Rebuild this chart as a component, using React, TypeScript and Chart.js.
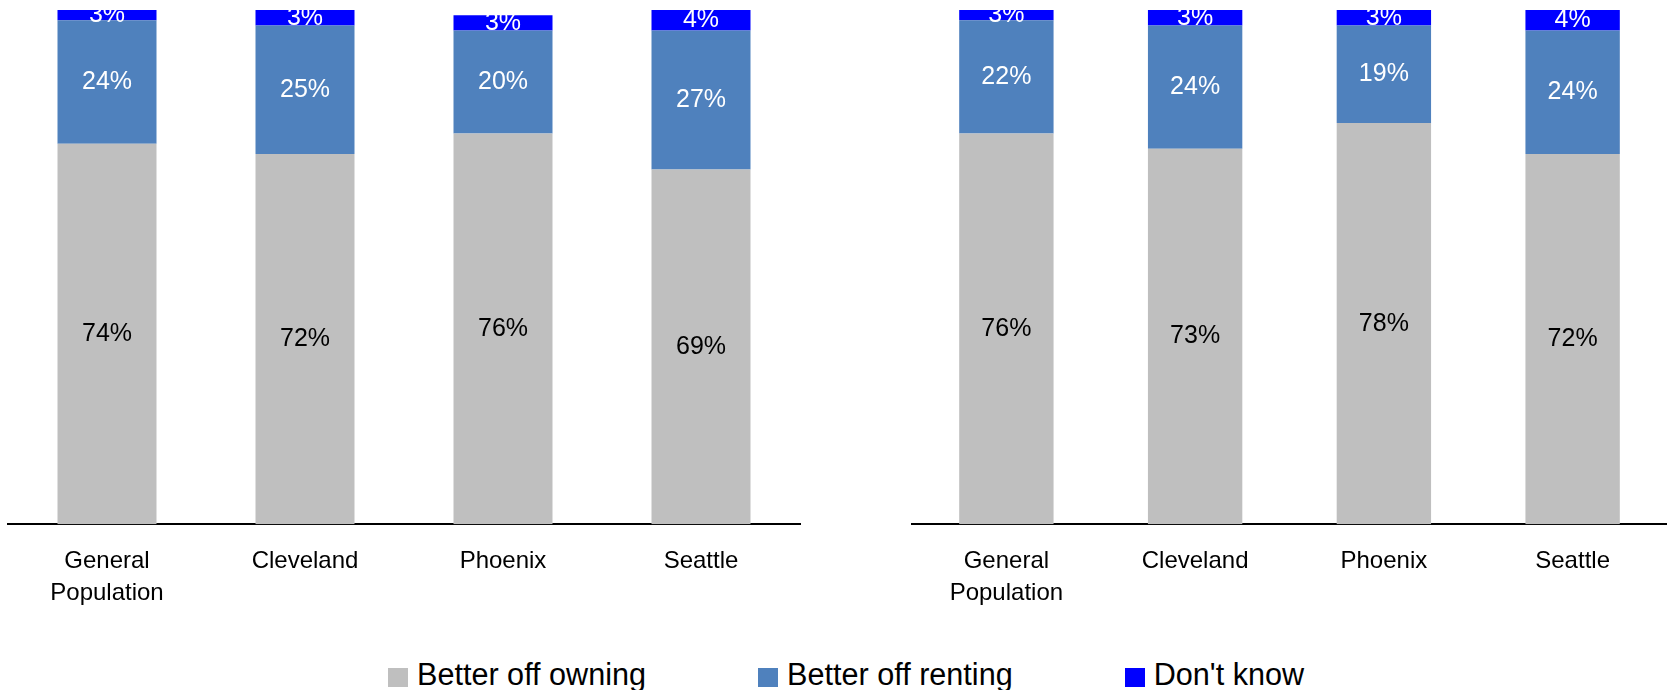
import React, { useEffect, useRef } from 'react';
import { Chart, registerables } from 'chart.js';

Chart.register(...registerables);

// Categories along each x axis (first one wraps onto two lines)
const categories: (string | string[])[] = [['General', 'Population'], 'Cleveland', 'Phoenix', 'Seattle'];

// Series shared by both panels
const seriesNames = ['Better off owning', 'Better off renting', "Don't know"];
const seriesColors = ['#BFBFBF', '#4F81BD', '#0000FF'];
const valueTextColors = ['#000000', '#FFFFFF', '#FFFFFF'];

// Left panel values (%)
const leftOwning = [74, 72, 76, 69];
const leftRenting = [24, 25, 20, 27];
const leftDontKnow = [3, 3, 3, 4];

// Right panel values (%)
const rightOwning = [76, 73, 78, 72];
const rightRenting = [22, 24, 19, 24];
const rightDontKnow = [3, 3, 3, 4];

const FONT = '"Liberation Sans", Arial, Helvetica, sans-serif';
const CANVAS_HEIGHT = 624;

// Writes each segment's percentage in the middle of its visible part
const segmentLabels = {
  id: 'segmentLabels',
  afterDatasetsDraw(chart: any) {
    const { ctx, chartArea } = chart;
    ctx.save();
    ctx.beginPath();
    ctx.rect(chartArea.left, chartArea.top, chartArea.right - chartArea.left, chartArea.bottom - chartArea.top);
    ctx.clip();
    ctx.font = `25px ${FONT}`;
    ctx.textAlign = 'center';
    ctx.textBaseline = 'middle';
    chart.data.datasets.forEach((ds: any, i: number) => {
      const meta = chart.getDatasetMeta(i);
      meta.data.forEach((bar: any, j: number) => {
        const { x, y, base } = bar.getProps(['x', 'y', 'base'], true);
        const top = Math.max(Math.min(y, base), chartArea.top);
        const bottom = Math.max(y, base);
        ctx.fillStyle = valueTextColors[i];
        ctx.fillText(`${ds.data[j]}%`, x, (top + bottom) / 2);
      });
    });
    ctx.restore();
  },
};

type PanelProps = {
  series: number[][];
  left: number;
  width: number;
  padLeft: number;
  padRight: number;
};

function StackedPanel({ series, left, width, padLeft, padRight }: PanelProps) {
  const ref = useRef<HTMLCanvasElement | null>(null);

  useEffect(() => {
    if (!ref.current) return;
    const chart = new Chart(ref.current, {
      type: 'bar',
      data: {
        labels: categories,
        datasets: series.map((data, i) => ({
          label: seriesNames[i],
          data,
          backgroundColor: seriesColors[i],
          borderWidth: 0,
          categoryPercentage: 0.5,
          barPercentage: 1,
        })),
      },
      options: {
        responsive: false,
        devicePixelRatio: 1,
        animation: false,
        layout: { padding: { left: padLeft, right: padRight, top: 10, bottom: 1 } },
        plugins: {
          legend: { display: false },
          tooltip: { enabled: false },
        },
        scales: {
          x: {
            stacked: true,
            grid: { display: false },
            border: { display: true, color: '#000000', width: 2 },
            ticks: {
              color: '#000000',
              padding: 13,
              maxRotation: 0,
              autoSkip: false,
              font: { family: FONT, size: 24, lineHeight: 1.35 },
            },
          },
          y: {
            stacked: true,
            display: false,
            min: 0,
            max: 100,
          },
        },
      },
      plugins: [segmentLabels],
    });
    return () => chart.destroy();
  }, [series, padLeft, padRight]);

  return (
    <canvas
      ref={ref}
      width={width}
      height={CANVAS_HEIGHT}
      style={{ position: 'absolute', left, top: 0, width, height: CANVAS_HEIGHT }}
    />
  );
}

const leftSeries = [leftOwning, leftRenting, leftDontKnow];
const rightSeries = [rightOwning, rightRenting, rightDontKnow];

export default function App() {
  return (
    <div
      style={{
        position: 'absolute',
        left: 0,
        top: 0,
        width: 1667,
        height: 690,
        overflow: 'hidden',
        background: '#FFFFFF',
        fontFamily: FONT,
      }}
    >
      <StackedPanel series={leftSeries} left={0} width={810} padLeft={8} padRight={10} />
      <StackedPanel series={rightSeries} left={895} width={772} padLeft={17} padRight={0} />
      <div
        style={{
          position: 'absolute',
          left: 388,
          top: 657,
          display: 'flex',
          alignItems: 'flex-start',
          gap: 112,
          fontSize: 30.6,
          lineHeight: '34px',
          color: '#000000',
          whiteSpace: 'nowrap',
        }}
      >
        {seriesNames.map((name, i) => (
          <div key={name} style={{ display: 'flex', alignItems: 'flex-start' }}>
            <span
              style={{
                display: 'inline-block',
                width: 20,
                height: 19,
                marginTop: 11,
                marginRight: 9,
                background: seriesColors[i],
              }}
            />
            <span>{name}</span>
          </div>
        ))}
      </div>
    </div>
  );
}
